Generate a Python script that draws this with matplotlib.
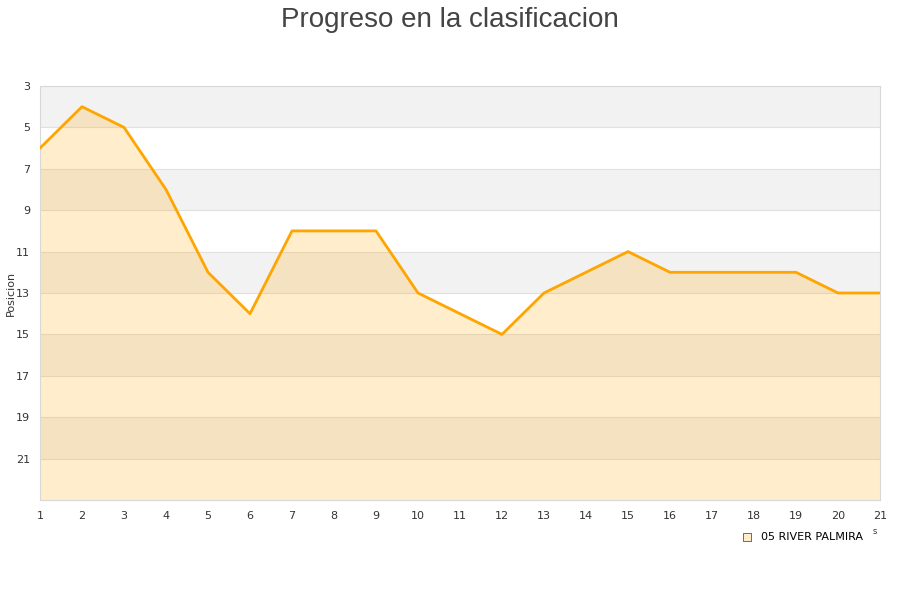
import matplotlib.pyplot as plt

jornadas = list(range(1, 22))
posicion = [6, 4, 5, 8, 12, 14, 10, 10, 10, 13, 14, 15, 13, 12, 11, 12, 12, 12, 12, 13, 13]
equipo = "05 RIVER PALMIRA"
y_ticks = [3, 5, 7, 9, 11, 13, 15, 17, 19, 21]

fig = plt.figure(figsize=(9, 6), dpi=100)
ax = fig.add_axes([40/900, 100/600, 840/900, 414/600])

# franjas alternas de fondo
for i, y0 in enumerate(range(3, 23, 2)):
    if i % 2 == 0:
        ax.axhspan(y0, y0 + 2, color="#f2f2f2", zorder=0, lw=0)
for y in y_ticks[1:]:
    ax.axhline(y, color="#e0e0e0", lw=0.8, zorder=1)

ax.fill_between(jornadas, posicion, 23, color="#FFA500", alpha=0.2, lw=0, zorder=2)
ax.plot(jornadas, posicion, color="#FFA500", lw=2, zorder=3)

ax.set_xlim(1, 21)
ax.set_ylim(23, 3)
ax.set_xticks(jornadas)
ax.set_yticks(y_ticks)
ax.tick_params(length=0, labelsize=8, colors="#333333", pad=8)
ax.tick_params(axis="y", pad=7)
for s in ax.spines.values():
    s.set_color("#d8d8d8")
ax.set_ylabel("Posicion", fontsize=8, color="#333333")
ax.yaxis.set_label_coords(-24/840, 0.5)

fig.text(0.5, 1 - 7/600, "Progreso en la clasificacion", ha="center", va="top",
         fontsize=20, color="#444444", family="Liberation Sans")
fig.text(875/900, 1 - 532/600, "s", fontsize=6, color="#333333", ha="center", va="center")

ax.scatter([], [], marker="s", s=30, color="#FFECC8", edgecolor="#555555", lw=0.6, label=equipo)
ax.legend(loc="upper left", bbox_to_anchor=(730/900, 1 - 526/600), bbox_transform=fig.transFigure,
          frameon=False, fontsize=8, handletextpad=0.3, borderpad=0, markerscale=1)

fig.savefig("out.png", dpi=100)
